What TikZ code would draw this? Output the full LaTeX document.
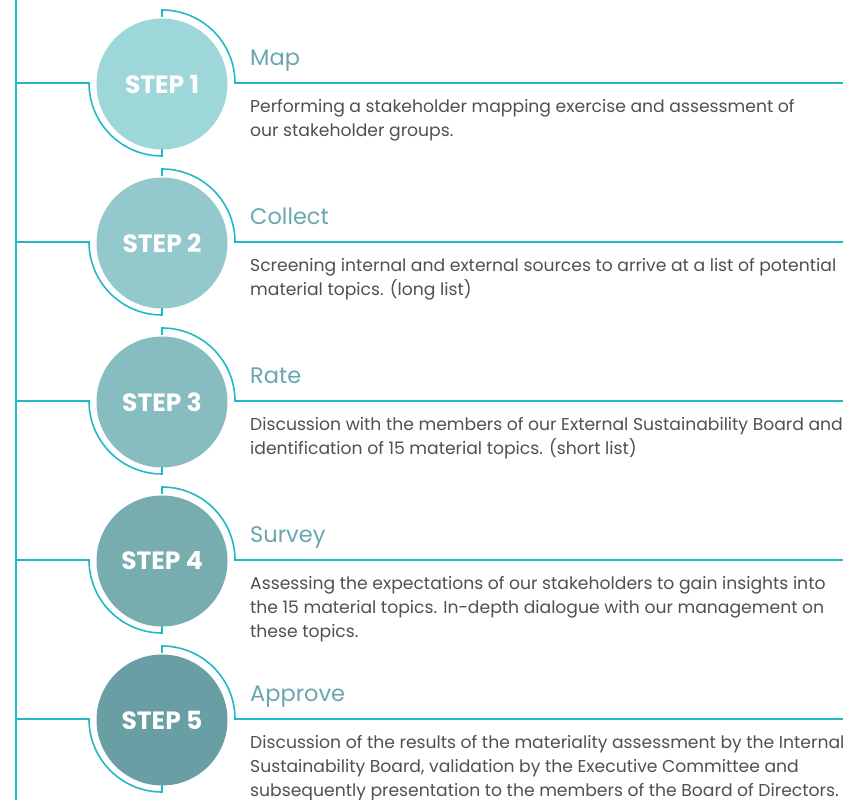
\documentclass[tikz,border=0pt]{standalone}
\usepackage{fontspec}
\setmainfont{Poppins}
\definecolor{linec}{HTML}{22B8C6}
\definecolor{titlec}{HTML}{6AA6AE}
\definecolor{descc}{HTML}{505050}
\definecolor{fa}{HTML}{9ED7D9}
\definecolor{fb}{HTML}{93C9CD}
\definecolor{fc}{HTML}{87BDC1}
\definecolor{fd}{HTML}{78ADB0}
\definecolor{fe}{HTML}{699EA4}
\tikzset{
  stepcircle/.style={circle, minimum size=131pt, inner sep=0pt, text=white, font=\fontsize{25}{30}\selectfont\bfseries},
  flowline/.style={draw=linec, line width=1.6pt},
  titletext/.style={anchor=base west, inner sep=0pt, text=titlec, font=\fontsize{22.5}{26}\selectfont},
  desctext/.style={anchor=base west, inner sep=0pt, text=descc, align=left, font=\fontsize{17.2}{24}\selectfont},
}
\begin{document}
\begin{tikzpicture}[x=1pt,y=1pt]
\useasboundingbox (0,0) rectangle (843,800);
\clip (0,0) rectangle (843,800);
\draw[flowline] (16,0) coordinate (vbot) -- (16,800) coordinate (vtop);
\foreach \i/\ly/\col/\nl/\ttl/\desc in {
  1/717/fa/1/Map/{Performing a stakeholder mapping exercise and assessment of\\our stakeholder groups.},
  2/558/fb/1/Collect/{Screening internal and external sources to arrive at a list of potential\\material topics. (long list)},
  3/399/fc/1/Rate/{Discussion with the members of our External Sustainability Board and\\identification of 15 material topics. (short list)},
  4/240/fd/2/Survey/{Assessing the expectations of our stakeholders to gain insights into\\the 15 material topics. In-depth dialogue with our management on\\these topics.},
  5/81/fe/2/Approve/{Discussion of the results of the materiality assessment by the Internal\\Sustainability Board, validation by the Executive Committee and\\subsequently presentation to the members of the Board of Directors.}}
{
  \node[stepcircle, fill=\col] (s\i) at (162,\ly-1) {STEP \i};
  \coordinate (l\i) at (16,\ly);
  \coordinate (r\i) at (843,\ly);
  \draw[flowline] (l\i) -- (89,\ly) arc[start angle=180, end angle=270, radius=73] -- ++(0,7);
  \draw[flowline] (162,\ly+66) -- ++(0,7) arc[start angle=90, end angle=0, radius=73] -- (r\i);
  \node[titletext] (t\i) at (250,\ly+17) {\ttl};
  \node[desctext] (d\i) at (250,\ly-30-24*\nl) {\desc};
}
\end{tikzpicture}
\end{document}
